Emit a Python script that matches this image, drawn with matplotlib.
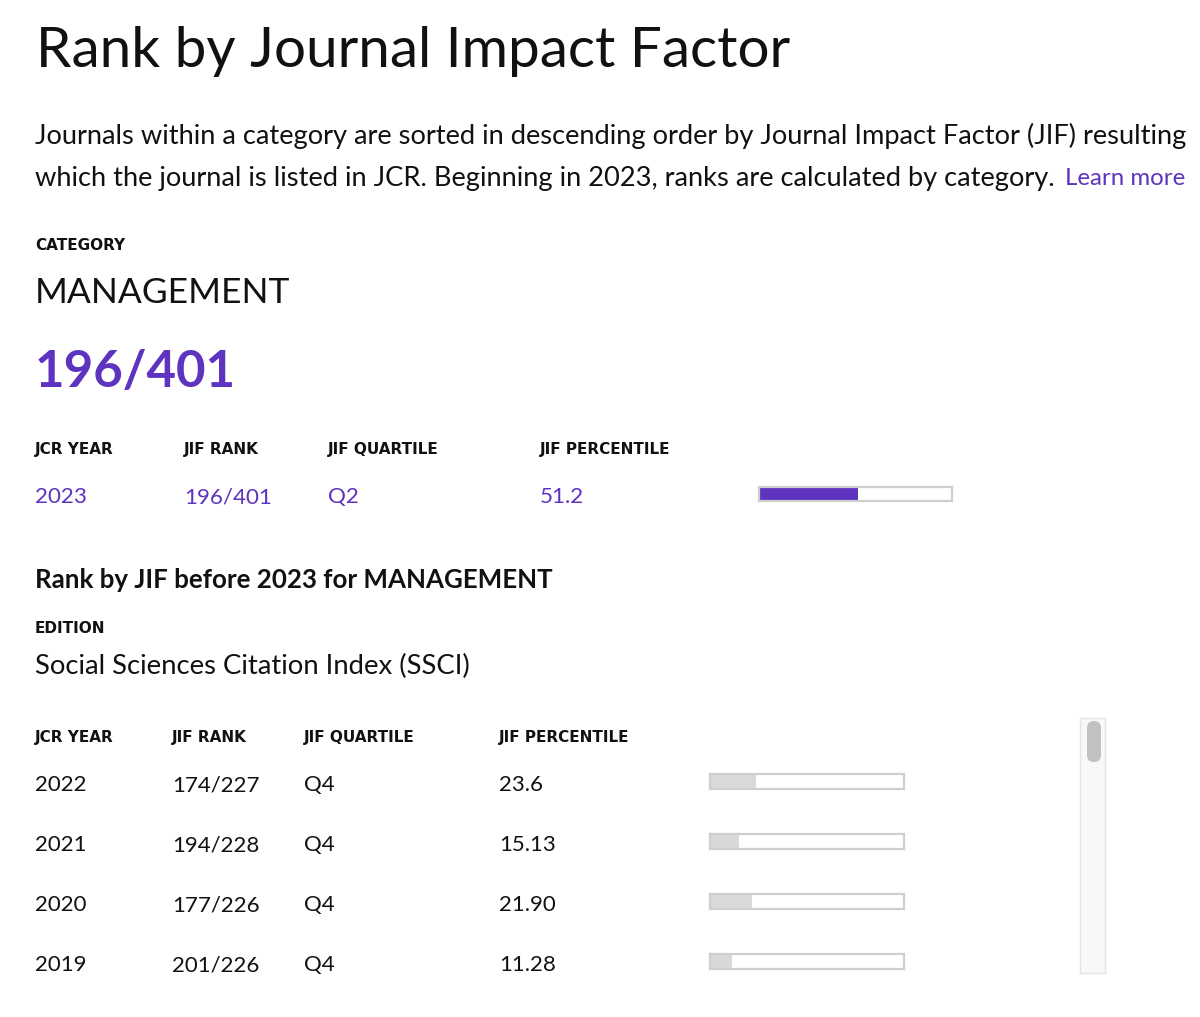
import matplotlib.pyplot as plt
from matplotlib.patches import Rectangle, FancyBboxPatch

plt.rcParams['font.family'] = ['Lato', 'DejaVu Sans']

W, H = 1200, 1017
PURPLE = '#5e33bf'
INK = '#111111'

# ---- page content ----
title = "Rank by Journal Impact Factor"
desc_line1 = ("Journals within a category are sorted in descending order by Journal "
              "Impact Factor (JIF) resulting")
desc_line2 = "which the journal is listed in JCR. Beginning in 2023, ranks are calculated by category."
learn_more = "Learn more"
category = "MANAGEMENT"
columns = ["JCR YEAR", "JIF RANK", "JIF QUARTILE", "JIF PERCENTILE"]

cur_year = "2023"
cur_rank = "196/401"
cur_quartile = "Q2"
cur_percentile = 51.2

before_title = "Rank by JIF before 2023 for MANAGEMENT"
edition = "Social Sciences Citation Index (SSCI)"
years = ["2022", "2021", "2020", "2019"]
ranks = ["174/227", "194/228", "177/226", "201/226"]
quartiles = ["Q4", "Q4", "Q4", "Q4"]
percentile_labels = ["23.6", "15.13", "21.90", "11.28"]
percentiles = [23.6, 15.13, 21.90, 11.28]

fig = plt.figure(figsize=(W / 100, H / 100), dpi=100)
ax = fig.add_axes([0, 0, 1, 1])
ax.set_xlim(0, W)
ax.set_ylim(H, 0)
ax.axis('off')
renderer = fig.canvas.get_renderer()


def put(x, y, s, size, target_w=None, **kw):
    kw.setdefault('color', INK)
    t = ax.text(x, y, s, fontsize=size, va='baseline', ha='left', **kw)
    if target_w:
        w = t.get_window_extent(renderer).width
        t.set_fontsize(size * target_w / w)
    return t


def label(x, y, s):
    # small caps-style labels are widely tracked on the page; a wider bold face stands in
    return put(x, y, s, 11, fontweight='bold', family=['DejaVu Sans'])


def pct_bar(x0, y0, w, h, value, color):
    bax = fig.add_axes([x0 / W, 1 - (y0 + h) / H, w / W, h / H])
    bax.barh(0, value, height=1, color=color, left=0)
    bax.set_xlim(0, 100)
    bax.set_ylim(-0.5, 0.5)
    bax.set_xticks([])
    bax.set_yticks([])
    for sp in bax.spines.values():
        sp.set_color('#cfcfcf')
        sp.set_linewidth(1.6)


put(36, 67, title, 40, target_w=755)

t2 = put(35, 186, desc_line2, 17, target_w=1022)
body_size = t2.get_fontsize()
put(35, 144, desc_line1, body_size)
put(1065, 185, learn_more, body_size * 0.92, target_w=120, color=PURPLE)

label(35, 250, "CATEGORY")
put(35, 303, category, 26, target_w=255)
put(35, 387, cur_rank, 40, target_w=201, fontweight='bold', color=PURPLE)

# current year table
col_x1 = [35, 184, 328, 540]
for x, c in zip(col_x1, columns):
    label(x, 454, c)
vt = put(col_x1[1], 503, cur_rank, 17, target_w=88, color=PURPLE)
vsize = vt.get_fontsize()
put(col_x1[0], 503, cur_year, vsize, color=PURPLE)
put(col_x1[2], 503, cur_quartile, vsize, color=PURPLE)
put(col_x1[3], 503, f"{cur_percentile}", vsize, color=PURPLE)
pct_bar(759, 487, 193, 14, cur_percentile, PURPLE)

# before 2023
put(35, 588, before_title, 18, target_w=516, fontweight='bold')
label(35, 633, "EDITION")
put(35, 674, edition, 18, target_w=434)

col_x2 = [35, 172, 304, 499]
for x, c in zip(col_x2, columns):
    label(x, 742, c)

row_size = None
for i in range(len(years)):
    base = 791 + 60 * i
    if row_size is None:
        rt = put(col_x2[1], base, ranks[i], 17, target_w=87)
        row_size = rt.get_fontsize()
    else:
        put(col_x2[1], base, ranks[i], row_size)
    put(col_x2[0], base, years[i], row_size)
    put(col_x2[2], base, quartiles[i], row_size)
    put(col_x2[3], base, percentile_labels[i], row_size)
    pct_bar(710, 774 + 60 * i, 194, 15, percentiles[i], '#d9d9d9')

# scrollbar
ax.add_patch(Rectangle((1080, 718), 25, 255, facecolor='#f8f8f8',
                       edgecolor='#e4e4e4', linewidth=1))
ax.add_patch(FancyBboxPatch((1087, 721), 14, 41,
                            boxstyle='round,pad=0,rounding_size=7',
                            facecolor='#c1c1c1', edgecolor='none'))

fig.savefig('out.png', dpi=100)
